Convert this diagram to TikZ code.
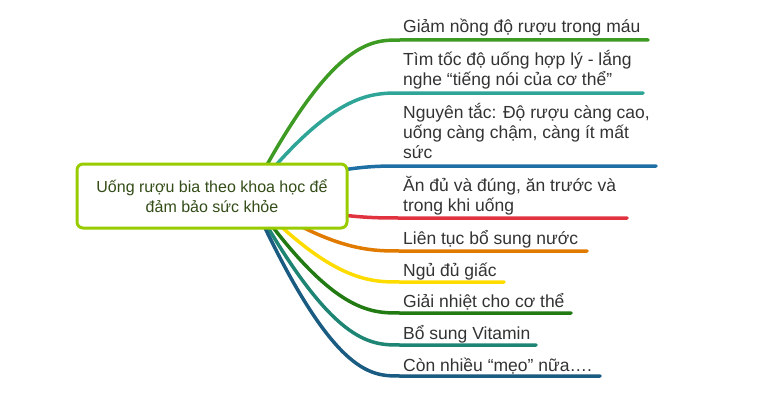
\documentclass[tikz,border=0pt]{standalone}
\usepackage{fontspec}
\setmainfont{Liberation Sans}
\definecolor{cA}{HTML}{3D9B23}
\definecolor{cB}{HTML}{2EA597}
\definecolor{cC}{HTML}{1E6FA3}
\definecolor{cD}{HTML}{E0323F}
\definecolor{cE}{HTML}{E07B00}
\definecolor{cF}{HTML}{FFDC00}
\definecolor{cG}{HTML}{217A12}
\definecolor{cH}{HTML}{1E8574}
\definecolor{cI}{HTML}{1A5B82}
\definecolor{boxline}{HTML}{99CC00}
\definecolor{boxtext}{HTML}{344D18}
\definecolor{itemtext}{HTML}{333333}
\begin{document}
\begin{tikzpicture}[x=1pt,y=-1pt,
  branch/.style={line width=3.5pt,line cap=round},
  item/.style={anchor=base west,inner sep=0pt,align=left,text=itemtext,
    font=\fontsize{17.5}{20}\selectfont},
  centerbox/.style={draw=boxline,line width=3pt,rounded corners=6pt,fill=white,
    minimum width=270pt,minimum height=64pt,align=center,text=boxtext,
    font=\fontsize{16}{20}\selectfont}]
\useasboundingbox (0,0) rectangle (760,404);
\coordinate (s) at (250,196);
% branch ends
\coordinate (eA) at (648,40);
\coordinate (eB) at (643,93);
\coordinate (eC) at (656,166);
\coordinate (eD) at (627,218);
\coordinate (eE) at (587,251);
\coordinate (eF) at (504,282);
\coordinate (eG) at (571,313);
\coordinate (eH) at (536,345);
\coordinate (eI) at (600,376);
\foreach \n/\y/\c in {A/40/cA,B/93/cB,C/166/cC,D/218/cD,E/251/cE,F/282/cF,G/313/cG,H/345/cH,I/376/cI}{
  \draw[branch,draw=\c] (s) .. controls (332,\y) and (370,\y) .. (400,\y) -- (e\n);
}
\node[centerbox] (c) at (212,196) {Uống rượu bia theo khoa học để\\đảm bảo sức khỏe};
\node[item] (tA) at (403,33) {Giảm nồng độ rượu trong máu};
\node[item] (tB) at (403,85) {Tìm tốc độ uống hợp lý - lắng\\nghe “tiếng nói của cơ thể”};
\node[item] (tC) at (403,158) {Nguyên tắc: Độ rượu càng cao,\\uống càng chậm, càng ít mất\\sức};
\node[item] (tD) at (403,211) {Ăn đủ và đúng, ăn trước và\\trong khi uống};
\node[item] (tE) at (403,244) {Liên tục bổ sung nước};
\node[item] (tF) at (403,276) {Ngủ đủ giấc};
\node[item] (tG) at (403,307) {Giải nhiệt cho cơ thể};
\node[item] (tH) at (403,339) {Bổ sung Vitamin};
\node[item] (tI) at (403,371) {Còn nhiều “mẹo” nữa….};
\end{tikzpicture}
\end{document}
